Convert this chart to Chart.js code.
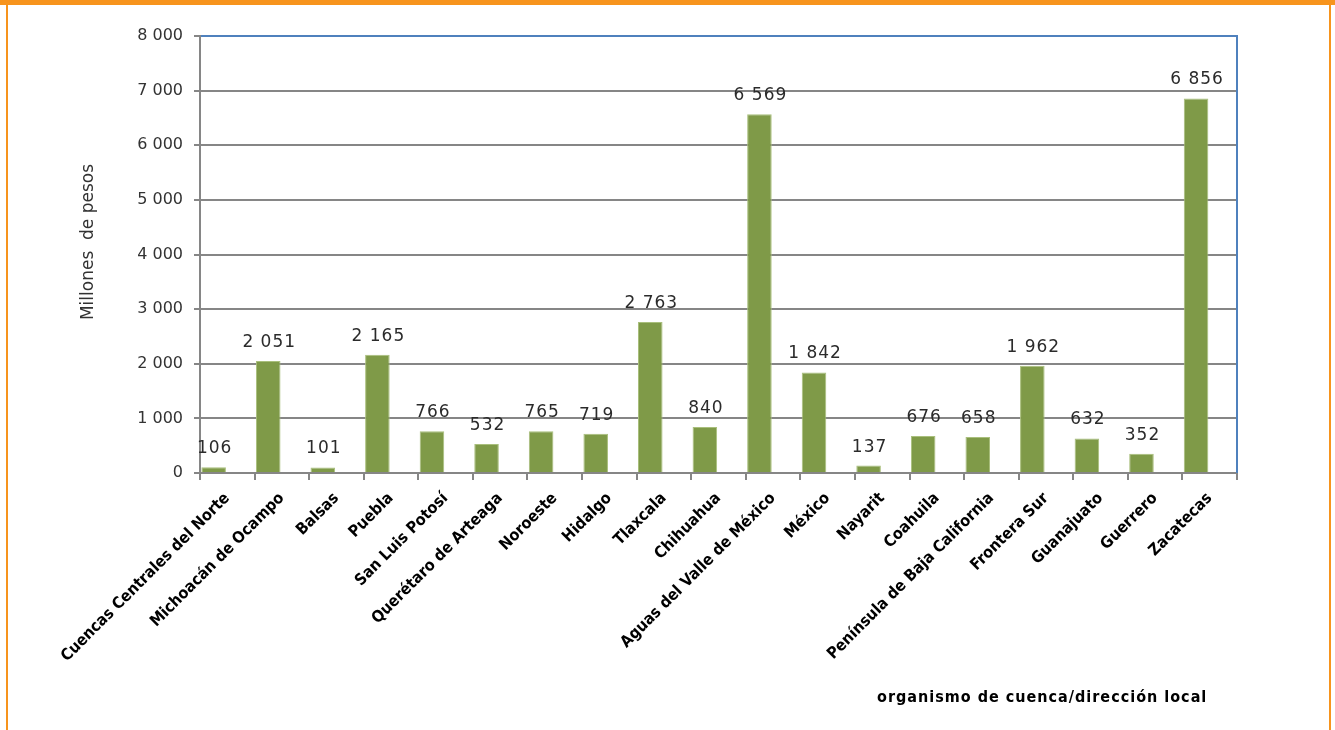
<!DOCTYPE html>
<html>
<head>
<meta charset="utf-8">
<script src="https://cdn.jsdelivr.net/npm/chart.js@4"></script>
<style>
  html, body { margin: 0; padding: 0; background: #fff; }
  #wrap { position: relative; width: 1335px; height: 730px; overflow: hidden; }
  .frame { position: absolute; background: #f7941d; }
</style>
</head>
<body>
<div id="wrap">
  <canvas id="cuencaChart" width="1335" height="730"></canvas>
  <div class="frame" style="left:0;top:0;width:1335px;height:5px"></div>
  <div class="frame" style="left:6px;top:0;width:2px;height:730px"></div>
  <div class="frame" style="left:1329px;top:0;width:2px;height:730px"></div>
</div>
<script>
// organismo de cuenca / dirección local
const categorias = ['Cuencas Centrales del Norte', 'Michoacán de Ocampo', 'Balsas', 'Puebla', 'San Luis Potosí',
  'Querétaro de Arteaga', 'Noroeste', 'Hidalgo', 'Tlaxcala', 'Chihuahua', 'Aguas del Valle de México', 'México',
  'Nayarit', 'Coahuila', 'Península de Baja California', 'Frontera Sur', 'Guanajuato', 'Guerrero', 'Zacatecas'];
// millones de pesos
const montos = [106, 2051, 101, 2165, 766, 532, 765, 719, 2763, 840, 6569, 1842, 137, 676, 658, 1962, 632, 352, 6856];
// el original deja un hueco a la derecha de cada barra (serie vacía)
const vacia = [];
const ticksY = [0, 1000, 2000, 3000, 4000, 5000, 6000, 7000, 8000];

const fmt = v => String(v).replace(/\B(?=(\d{3})+(?!\d))/g, ' ');

// etiquetas sobre las barras, títulos de ejes y borde azul
const extras = {
  id: 'extras',
  afterDraw(chart) {
    const c = chart.ctx, a = chart.chartArea;
    c.save();
    c.strokeStyle = '#4f81bd';
    c.lineWidth = 2;
    c.beginPath();
    c.moveTo(a.right, a.top - 1);
    c.lineTo(a.right, a.bottom);
    c.stroke();

    c.fillStyle = '#2b2b2b';
    c.font = '17px "DejaVu Sans"';
    c.letterSpacing = '1px';
    c.textAlign = 'center';
    c.textBaseline = 'alphabetic';
    chart.getDatasetMeta(0).data.forEach((bar, i) => {
      c.fillText(fmt(montos[i]), bar.x + 1, bar.y - 14);
    });
    c.letterSpacing = '0px';

    c.fillStyle = '#333';
    c.font = '17px "DejaVu Sans"';
    c.translate(88, 242);
    c.rotate(-Math.PI / 2);
    c.fillText('Millones  de pesos', 0, 5);
    c.restore();

    c.save();
    c.fillStyle = '#000';
    c.font = 'bold 16px "DejaVu Sans Condensed"';
    c.letterSpacing = '1px';
    c.textAlign = 'left';
    c.textBaseline = 'middle';
    c.fillText('organismo de cuenca/dirección local', 877, 698);
    c.restore();
  }
};

new Chart(document.getElementById('cuencaChart'), {
  type: 'bar',
  data: {
    labels: categorias,
    datasets: [{
      data: montos,
      backgroundColor: '#7f9a48',
      borderColor: '#a9bf7c',
      borderWidth: 1,
      barPercentage: 0.9,
      categoryPercentage: 1
    }, {
      data: vacia,
      barPercentage: 0.9,
      categoryPercentage: 1
    }]
  },
  options: {
    responsive: false,
    animation: false,
    layout: { padding: { left: 0, right: 98, top: 36, bottom: 0 } },
    plugins: { legend: { display: false }, tooltip: { enabled: false } },
    scales: {
      x: {
        grid: { offset: true, drawOnChartArea: false, color: '#868686', lineWidth: 2, tickLength: 7 },
        border: { color: '#868686', width: 2 },
        ticks: {
          autoSkip: false, maxRotation: 45, minRotation: 45, padding: 9,
          color: '#000', font: { family: '"DejaVu Sans Condensed"', size: 16, weight: 'bold' }
        },
        afterFit(scale) { scale.height = 257; }
      },
      y: {
        min: 0, max: 8000,
        afterBuildTicks(scale) { scale.ticks = ticksY.map(v => ({ value: v })); },
        grid: {
          color: ctx => ctx.tick && ctx.tick.value === 8000 ? '#4f81bd' : '#868686',
          tickColor: '#868686', lineWidth: 2, tickLength: 6
        },
        border: { color: '#868686', width: 2 },
        ticks: {
          padding: 11, color: '#333',
          font: { family: '"DejaVu Sans"', size: 16 },
          callback: v => fmt(v)
        },
        afterFit(scale) { scale.width = 200; }
      }
    }
  },
  plugins: [extras]
});
</script>
</body>
</html>
